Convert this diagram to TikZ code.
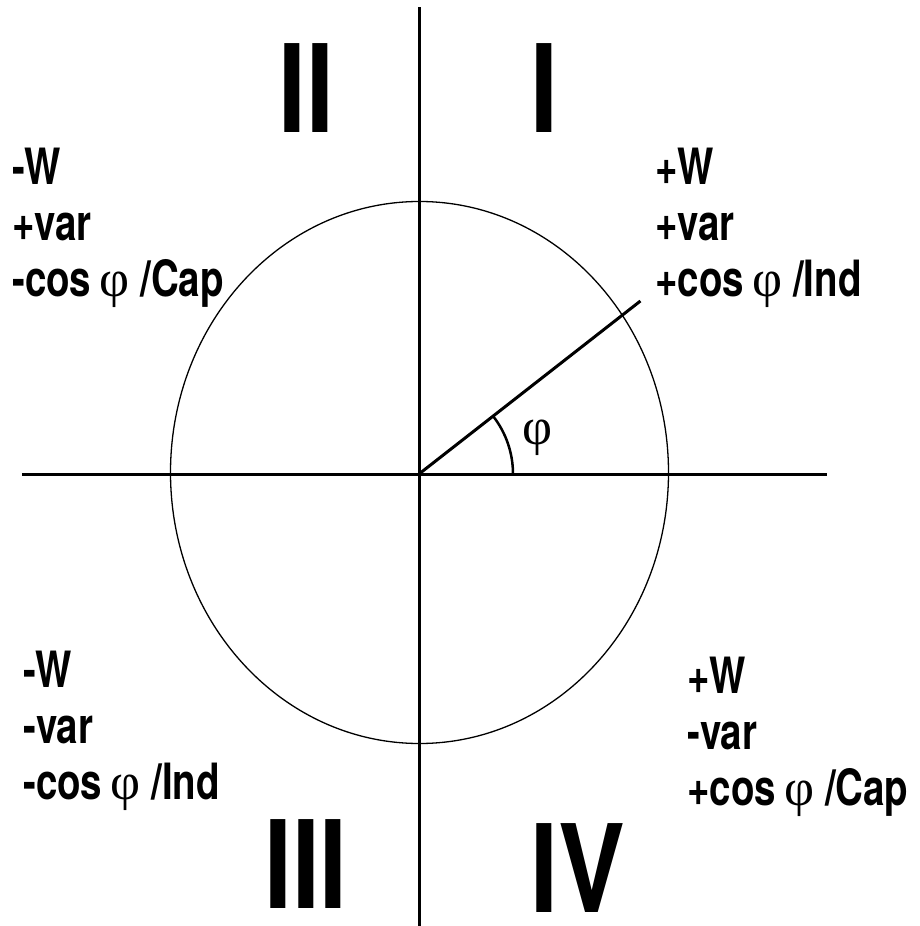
\documentclass[tikz,border=0pt]{standalone}
\usepackage{fontspec}
\setmainfont{TeX Gyre Heros}
\newfontfamily\labelfont[FakeStretch=0.77]{TeX Gyre Heros}
\newfontfamily\numfont[FakeStretch=0.82]{TeX Gyre Heros}
\newfontfamily\greekfont{Liberation Serif}
\newcommand{\phisym}{{\greekfont\mdseries\fontsize{52}{52}\selectfont φ}}
\usetikzlibrary{positioning}

\begin{document}
\begin{tikzpicture}[x=1pt,y=1pt,
    quad/.style={anchor=base west,inner sep=0pt,align=left,font=\labelfont\bfseries\fontsize{50}{56}\selectfont},
    roman/.style={anchor=base west,inner sep=0pt,font=\numfont\bfseries\fontsize{122}{122}\selectfont},
    axis/.style={line width=3pt}]
    \useasboundingbox (-419,-452) rectangle (500,474);
    \coordinate (O) at (0,0);
    \coordinate (xl) at (-397,0);
    \coordinate (xr) at (408,0);
    \coordinate (yt) at (0,467);
    \coordinate (yb) at (0,-452);
    \draw [axis] (xl)--(xr);
    \draw [axis] (yb)--(yt);
    \draw [line width=1.3pt] (0.5,1.5) ellipse [x radius=249, y radius=271];
    \draw [axis] (O)--(38:281) coordinate (P);
    \draw [line width=2.5pt] (94,0) arc [start angle=0, end angle=38, radius=94];
    \node (phi) at (119,36) {\phisym};

    \node[roman] (N1) at (111,341) {I};
    \node[roman] (N2) at (-141,341) {II};
    \node[roman] (N3) at (-155,-434) {III};
    \node[roman] (N4) at (111,-438) {IV};

    \node[quad] (Q1) at (236,177) {+W\\+var\\+cos\,\phisym\ /Ind};
    \node[quad] (Q2) at (-407,177) {-W\\+var\\-cos\,\phisym\ /Cap};
    \node[quad] (Q3) at (-396,-325) {-W\\-var\\-cos\,\phisym\ /Ind};
    \node[quad] (Q4) at (268,-331) {+W\\-var\\+cos\,\phisym\ /Cap};
\end{tikzpicture}
\end{document}
